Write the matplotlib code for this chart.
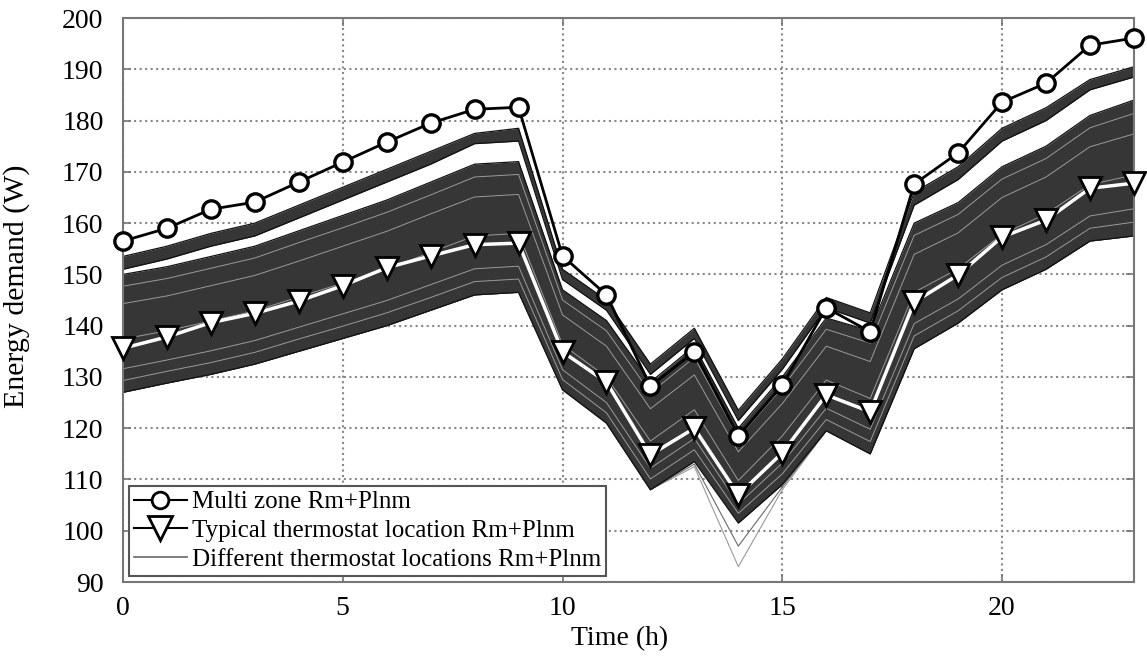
import matplotlib
matplotlib.use('Agg')
import matplotlib.pyplot as plt
from matplotlib.lines import Line2D

plt.rcParams['font.family'] = ['Liberation Serif', 'DejaVu Serif']

hours = list(range(24))

# Multi zone Rm+Plnm
multi_zone = [156.5, 159, 162.7, 164.1, 168, 171.9, 175.8, 179.5, 182.2, 182.6,
              153.6, 146, 128.2, 134.9, 118.5, 128.4, 143.5, 138.8,
              167.6, 173.7, 183.6, 187.3, 194.7, 196.1]

# Typical thermostat location Rm+Plnm
typical = [135.6, 137.8, 140.6, 142.4, 144.8, 147.8, 151.3, 153.6, 155.8, 156.1,
           134.9, 129, 114.8, 120, 107, 115.2, 126.5, 123.2,
           144.6, 149.9, 157.3, 160.6, 166.8, 167.8]

# Different thermostat locations (top edge down to bottom edge)
loc_top = [153.5, 155.5, 158, 160, 163.5, 167, 170.5, 174, 177.5, 178.5,
           151, 145, 132.5, 139.5, 123.5, 133.5, 145.5, 142.5,
           166, 171, 178.5, 182.5, 188, 190.5]
loc_cluster = [151, 153, 155.5, 157.5, 161, 164.5, 168, 171.5, 175.5, 176,
               149, 143, 130.5, 137.5, 121.5, 131.5, 143.5, 140.5,
               163.5, 168.5, 176, 180, 186, 188.5]
loc_group2 = [150, 151.5, 153.5, 155.5, 158.5, 161.5, 164.5, 168, 171.5, 172,
              147, 141, 129, 136, 120, 130, 141.5, 139,
              160, 164, 171, 175, 181, 184]
loc_mid0 = [147.7, 149.2, 151.2, 153.2, 156.2, 159.1, 162.1, 165.5, 169, 169.5,
            145, 139, 126.9, 133.8, 118.2, 127.9, 139.3, 136.6,
            157.6, 161.7, 168.6, 172.6, 178.6, 181.4]
loc_mid1 = [144.3, 145.8, 147.8, 149.8, 152.6, 155.5, 158.4, 161.8, 165.1, 165.6,
            142.1, 136, 123.8, 130.4, 115.4, 124.8, 136, 133,
            153.9, 158.1, 165, 169, 174.9, 177.4]
loc_mid2 = [137.4, 139, 140.9, 142.9, 145.6, 148.3, 151, 154.3, 157.5, 158,
            136.3, 130, 117.5, 123.6, 109.8, 118.5, 129.4, 125.8,
            146.5, 151.1, 157.8, 161.8, 167.5, 169.4]
loc_mid3 = [131.6, 133.3, 135.1, 137.1, 139.7, 142.3, 144.9, 148, 151.1, 151.6,
            131.4, 125, 112.2, 118, 105.2, 113.2, 123.9, 119.8,
            140.4, 145.2, 151.8, 155.8, 161.4, 162.8]
loc_mid4 = [129.3, 131.1, 132.8, 134.8, 137.4, 139.9, 142.5, 145.5, 148.6, 149.1,
            129.5, 123, 110.1, 115.8, 103.4, 111.1, 121.7, 117.4,
            138, 142.9, 149.4, 153.4, 159, 160.2]
loc_bottom = [127, 128.8, 130.5, 132.5, 135, 137.5, 140, 143, 146, 146.5,
              127.5, 121, 108, 113.5, 101.5, 109, 119.5, 115,
              135.5, 140.5, 147, 151, 156.5, 157.5]
loc_spike1 = [127, 128.8, 130.5, 132.5, 135, 137.5, 140, 143, 146, 146.5,
              127.5, 121, 108, 113, 97, 108.5, 119.5, 115,
              135.5, 140.5, 147, 151, 156.5, 157.5]
loc_spike2 = [127, 128.8, 130.5, 132.5, 135, 137.5, 140, 143, 146, 146.5,
              127.5, 121, 108, 112.5, 93, 108, 119.5, 115,
              135.5, 140.5, 147, 151, 156.5, 157.5]

fig = plt.figure(figsize=(11.47, 6.59), dpi=100)
ax = fig.add_axes([0.1072, 0.1168, 0.8814, 0.8558])

# bundle of thin lines
ax.plot(hours, loc_spike2, color='#9a9a9a', lw=0.8, zorder=1)
ax.plot(hours, loc_spike1, color='#6a6a6a', lw=0.8, zorder=1)
ax.fill_between(hours, loc_bottom, loc_top, color='#363636', lw=0, zorder=1)
ax.fill_between(hours, loc_group2, loc_cluster, color='white', lw=0, zorder=1.2)
for line in [loc_mid0, loc_mid1, loc_mid2, loc_mid3, loc_mid4]:
    ax.plot(hours, line, color='#9a9a9a', lw=0.7, zorder=1.5)
for line in [loc_top, loc_cluster, loc_group2, loc_bottom]:
    ax.plot(hours, line, color='#111111', lw=0.9, zorder=1.6)

ax.plot(hours, typical, color='white', lw=2.5, marker='v', ms=16,
        mfc='white', mec='black', mew=2, zorder=3, clip_on=False)
ax.plot(hours, multi_zone, color='black', lw=2, marker='o', ms=12.5,
        mfc='white', mec='black', mew=2.4, zorder=4, clip_on=False)

ax.set_xlim(0, 23)
ax.set_ylim(90, 200)
ax.set_xticks([0, 5, 10, 15, 20])
ax.set_yticks(range(90, 201, 10))
ax.tick_params(direction='in', length=6, width=1.2, color='#777777',
               labelsize=20, top=True, right=True)
ax.tick_params(axis='x', pad=10)
ax.tick_params(axis='y', pad=14)
ax.grid(True, linestyle=':', color='#888888', lw=1.5)
ax.set_axisbelow(True)
for s in ax.spines.values():
    s.set_color('#777777')
    s.set_linewidth(1.5)

ax.set_xlabel('Time (h)', fontsize=20)
ax.set_ylabel('Energy demand (W)', fontsize=21.5)
ax.xaxis.set_label_coords(0.4916, -0.078)
ax.yaxis.set_label_coords(-0.092, 0.525)

handles = [
    Line2D([], [], color='black', lw=1.5, marker='o', ms=12, mfc='white', mew=2),
    Line2D([], [], color='black', lw=1.5, marker='v', ms=17, mfc='white', mew=2),
    Line2D([], [], color='#666666', lw=1.2),
]
labels = ['Multi zone Rm+Plnm', 'Typical thermostat location Rm+Plnm',
          'Different thermostat locations Rm+Plnm']
leg = ax.legend(handles, labels, loc='lower left', fontsize=18, frameon=True,
                fancybox=False, edgecolor='#555555', framealpha=1,
                borderaxespad=0.25, handlelength=2.1, handletextpad=0.2,
                labelspacing=0.25, borderpad=0.2)
leg.get_frame().set_linewidth(1.5)
leg.set_zorder(10)

plt.savefig('out.png', dpi=100)
